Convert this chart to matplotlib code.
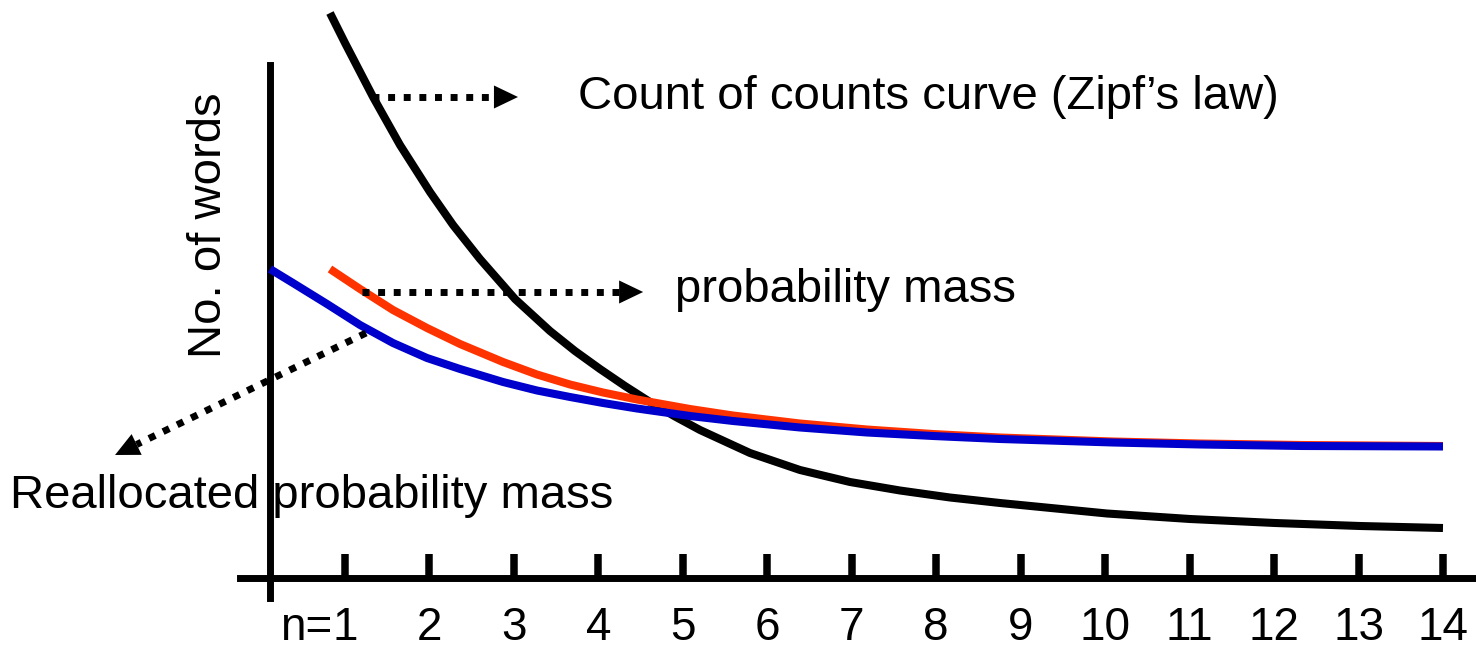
import numpy as np
import matplotlib
matplotlib.use("Agg")
import matplotlib.pyplot as plt

plt.rcParams['font.family'] = ['Liberation Sans', 'DejaVu Sans']

# curves (x in n, y in arbitrary "no. of words" units)
zipf_n = [0.822, 1.0, 1.332, 1.651, 2.006, 2.279, 2.598, 3.013, 3.427, 3.723,
          4.019, 4.315, 4.611, 4.907, 5.203, 5.795, 6.387, 6.979, 7.571, 8.163,
          8.755, 10.022, 11.005, 12.011, 13.018, 14.0]
zipf_y = [5.65, 5.35, 4.81, 4.33, 3.86, 3.53, 3.19, 2.79, 2.47, 2.27,
          2.09, 1.92, 1.76, 1.615, 1.48, 1.25, 1.08, 0.96, 0.875, 0.805,
          0.75, 0.645, 0.59, 0.55, 0.52, 0.50]

mass_n = [0.822, 1.178, 1.568, 1.971, 2.362, 2.871, 3.273, 3.664, 4.055, 4.457,
          5.085, 5.594, 6.387, 7.18, 7.962, 8.755, 10.093, 11.123, 12.331, 14.0]
mass_y = [3.09, 2.89, 2.68, 2.50, 2.34, 2.16, 2.035, 1.935, 1.855, 1.785,
          1.69, 1.625, 1.545, 1.485, 1.44, 1.405, 1.365, 1.345, 1.33, 1.32]

realloc_n = [0.112, 0.384, 0.787, 1.178, 1.568, 1.971, 2.362, 2.871, 3.273, 3.664,
             4.055, 4.457, 5.085, 5.594, 6.387, 7.18, 7.962, 8.755, 10.093,
             11.123, 12.331, 14.0]
realloc_y = [3.09, 2.95, 2.74, 2.53, 2.35, 2.20, 2.09, 1.96, 1.875, 1.81,
             1.75, 1.695, 1.62, 1.57, 1.505, 1.455, 1.42, 1.39, 1.355,
             1.335, 1.32, 1.315]

ticks = list(range(1, 15))
tick_labels = [str(t) for t in ticks]

# annotation arrows: (start, tip) and their texts
arrows = [((1.32, 4.81), (3.048, 4.81)),
          ((1.20, 2.86), (4.53, 2.86)),
          ((1.249, 2.45), (-1.723, 1.23))]
notes = [(3.759, 4.69, "Count of counts curve (Zipf\u2019s law)"),
         (4.907, 2.76, "probability mass"),
         (-2.966, 0.70, "Reallocated probability mass")]

fig = plt.figure(figsize=(14.76, 6.51), dpi=100)
ax = fig.add_axes([0, 0, 1, 1])
ax.set_xlim(-3.085, 14.391)
ax.set_ylim(-0.73, 5.78)

line_kw = dict(lw=5.8, solid_capstyle='butt', solid_joinstyle='round')
ax.plot(zipf_n, zipf_y, color='black', zorder=3, **line_kw)
ax.plot(mass_n, mass_y, color='#FF3300', zorder=4, **line_kw)
ax.plot(realloc_n, realloc_y, color='#0000CC', zorder=5, **line_kw)

# axes drawn as spines through the data origin
for s in ['top', 'right']:
    ax.spines[s].set_visible(False)
ax.spines['left'].set_position(('data', 0.112))
ax.spines['left'].set_bounds(-0.2, 5.13)
ax.spines['bottom'].set_position(('data', 0))
ax.spines['bottom'].set_bounds(-0.243, 14.391)
for s in ['left', 'bottom']:
    ax.spines[s].set_linewidth(5)

ax.set_xticks(ticks, tick_labels)
ax.set_yticks([])
ax.tick_params(axis='x', direction='in', length=17, width=5.4, pad=20, labelsize=33)
ax.text(0.848, -0.28, "n=", ha='right', va='top', fontsize=33)

ax.text(-0.468, 3.53, "No. of words", fontsize=34, rotation=90,
        rotation_mode='anchor', ha='center', va='baseline')

head_px = 24
for start, tip in arrows:
    p0 = ax.transData.transform(start)
    p1 = ax.transData.transform(tip)
    d = (p1 - p0) / np.hypot(*(p1 - p0))
    base = ax.transData.inverted().transform(p1 - head_px * d)
    ax.plot([start[0], base[0]], [start[1], base[1]], color='black', lw=5,
            linestyle=(0, (1, 1.25)), zorder=6)
    ax.annotate('', xy=tip, xytext=base,
                arrowprops=dict(arrowstyle='-|>,head_length=17.3,head_width=8.3',
                                mutation_scale=1, lw=0, color='black',
                                shrinkA=0, shrinkB=0), zorder=6)

for x, y, s in notes:
    ax.text(x, y, s, fontsize=34, ha='left', va='baseline')

fig.savefig('out.png', dpi=100)
